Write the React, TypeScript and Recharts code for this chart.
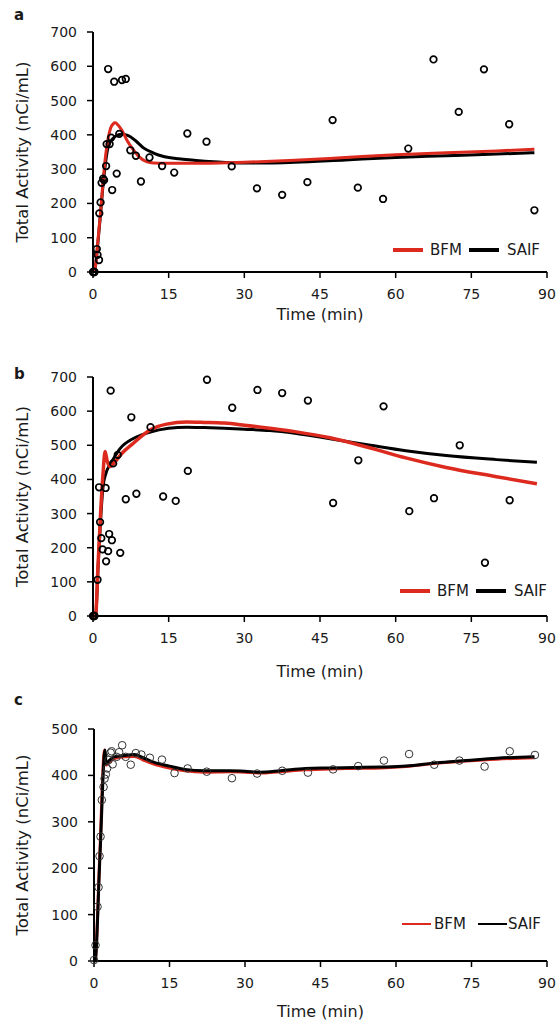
import React from "react";
import { ComposedChart, Line, Scatter, XAxis, YAxis } from "recharts";

// panel a – measured points
const timeA = [0, 0.1, 0.2, 0.3, 0.75, 0.9, 1.2, 1.25, 1.5, 1.7, 2.0, 2.2, 2.6, 2.7, 3.0, 3.3, 3.6, 3.8, 4.2, 4.7, 5.2, 5.75, 6.5, 7.4, 8.5, 9.5, 11.2, 13.7, 16.1, 18.7, 22.5, 27.5, 32.5, 37.5, 42.5, 47.5, 52.5, 57.5, 62.5, 67.5, 72.5, 77.5, 82.5, 87.5];
const actA = [0, 0, 0, 0, 67, 50, 35, 171, 203, 260, 272, 268, 309, 373, 592, 373, 392, 239, 555, 287, 403, 560, 563, 355, 339, 264, 334, 309, 290, 404, 380, 308, 244, 225, 262, 443, 246, 213, 360, 620, 467, 591, 431, 180];
// panel a – fitted curves
const bfmTimeA = [0, 0.4, 1, 1.5, 2, 2.5, 3, 3.5, 4, 4.4, 5, 5.7, 6.7, 8, 9, 10.6, 12, 14.6, 20, 25, 30, 40, 50, 60, 70, 80, 87.5];
const bfmA = [0, 10, 95, 175, 265, 340, 390, 420, 432, 435, 428, 414, 385, 356, 338, 322, 318, 317, 317, 318, 320, 326, 334, 342, 348, 353, 358];
const saifTimeA = [0, 0.4, 1, 1.5, 2, 2.5, 3, 4, 5, 5.5, 7, 8.5, 10, 12, 14, 17, 20, 23, 27, 30, 35, 40, 50, 60, 70, 80, 87.5];
const saifA = [0, 10, 90, 170, 255, 320, 365, 390, 400, 402, 398, 382, 362, 347, 337, 330, 326, 322, 319, 318, 318, 320, 327, 334, 339, 344, 348];

// panel b
const timeB = [0, 0.1, 0.2, 0.3, 0.9, 1.2, 1.4, 1.65, 1.9, 2.5, 2.6, 3.0, 3.2, 3.5, 3.75, 4.0, 4.9, 5.4, 6.5, 7.6, 8.6, 11.4, 13.9, 16.4, 18.8, 22.6, 27.6, 32.6, 37.5, 42.6, 47.6, 52.6, 57.6, 62.7, 67.6, 72.7, 77.7, 82.6];
const actB = [0, 0, 0, 0, 106, 377, 275, 228, 195, 375, 160, 190, 240, 660, 222, 447, 472, 185, 342, 582, 358, 553, 350, 337, 425, 692, 610, 662, 653, 631, 331, 456, 614, 307, 345, 500, 156, 339];
const bfmTimeB = [0, 0.5, 1, 1.5, 2, 2.4, 2.8, 3.4, 4.4, 5.7, 8, 11.3, 14.6, 18.6, 22, 26, 30, 35, 40, 47, 55, 62, 70, 80, 88];
const bfmB = [0, 0, 150, 300, 420, 482, 455, 438, 452, 476, 506, 545, 562, 568, 567, 565, 559, 550, 540, 522, 492, 463, 435, 408, 387];
const saifTimeB = [0, 0.5, 1, 1.5, 2, 2.5, 3.2, 3.7, 5.4, 8, 11, 15, 18.6, 22, 26, 30, 35, 40, 47, 55, 62, 70, 80, 88];
const saifB = [0, 0, 140, 280, 380, 415, 440, 452, 491, 520, 537, 550, 553, 552, 550, 547, 543, 535, 519, 500, 484, 470, 458, 450];

// panel c
const timeC = [0, 0.3, 0.7, 0.9, 1.1, 1.3, 1.55, 1.9, 2.1, 2.35, 2.6, 2.9, 3.3, 3.5, 3.7, 4.5, 5.0, 5.6, 6.3, 7.3, 8.3, 9.4, 11.1, 13.5, 16.0, 18.6, 22.4, 27.4, 32.4, 37.4, 42.5, 47.5, 52.5, 57.6, 62.6, 67.6, 72.6, 77.6, 82.6, 87.6];
const actC = [2, 34, 117, 159, 226, 268, 347, 375, 393, 402, 415, 433, 449, 452, 424, 440, 450, 465, 440, 423, 448, 445, 438, 434, 405, 415, 408, 394, 404, 410, 406, 413, 420, 432, 446, 423, 432, 419, 452, 444];
const bfmTimeC = [0, 0.2, 1.1, 2.1, 2.4, 3, 4, 6, 8, 10, 12, 15, 18, 22, 27, 30, 33, 37, 42, 47, 52, 57, 62, 68, 74, 80, 87.5];
const bfmC = [0, 0, 215, 455, 422, 428, 436, 440, 441, 432, 424, 416, 410, 407, 408, 407, 405, 408, 412, 414, 415, 416, 419, 426, 431, 435, 438];
const saifTimeC = [0, 0.2, 1.2, 2.2, 2.4, 3, 4, 6, 8, 10, 12, 15, 18, 22, 27, 30, 33, 37, 42, 47, 52, 57, 62, 68, 74, 80, 87.5];
const saifC = [0, 0, 230, 455, 425, 432, 440, 443, 445, 437, 428, 420, 413, 410, 410, 409, 407, 410, 415, 416, 417, 418, 420, 427, 432, 437, 440];

const xTicks = [0, 15, 30, 45, 60, 75, 90];
const yTicks700 = [0, 100, 200, 300, 400, 500, 600, 700];
const yTicks500 = [0, 100, 200, 300, 400, 500];

const RED = "#dc2a1f";
const INK = "#1a1a1a";

const toPts = (ts: number[], vs: number[]) => ts.map((t, i) => ({ t, v: vs[i] }));

const OpenCircle = (r: number, sw: number, color: string) => (props: any) =>
  <circle cx={props.cx} cy={props.cy} r={r} fill="none" stroke={color} strokeWidth={sw} />;

interface PanelProps {
  letter: string;
  top: number;
  height: number;
  marginTop: number;
  marginBottom: number;
  xAxisHeight: number;
  yWidth: number;
  yMax: number;
  yTicks: number[];
  points: { t: number; v: number }[];
  bfm: { t: number; v: number }[];
  saif: { t: number; v: number }[];
  redOnTop: boolean;
  legendTop: number;
  legendLeft: number;
  thinLegend?: boolean;
  dotR: number;
  dotW: number;
  dotColor: string;
  redW: number;
  blackW: number;
}

function LegendBox({ thin }: { thin?: boolean }) {
  const lh = thin ? 2.5 : 4;
  const line = (c: string) => (
    <span style={{ display: "inline-block", width: thin ? 29 : 30, height: lh, background: c }} />
  );
  return (
    <div style={{ display: "flex", alignItems: "center", fontSize: 15, color: INK, lineHeight: "20px", whiteSpace: "nowrap" }}>
      {line(RED)}
      <span style={{ marginLeft: thin ? 3 : 7, marginRight: thin ? 12 : 7 }}>BFM</span>
      {line("#000")}
      <span style={{ marginLeft: thin ? 1 : 8 }}>SAIF</span>
    </div>
  );
}

function Panel(p: PanelProps) {
  const red = (
    <Line key="bfm" data={p.bfm} dataKey="v" type="monotone" stroke={RED} strokeWidth={p.redW}
      dot={false} activeDot={false} isAnimationActive={false} />
  );
  const black = (
    <Line key="saif" data={p.saif} dataKey="v" type="monotone" stroke="#000" strokeWidth={p.blackW}
      dot={false} activeDot={false} isAnimationActive={false} />
  );
  return (
    <div style={{ position: "absolute", left: 0, top: p.top, width: 556, height: p.height }}>
      <div style={{ position: "absolute", left: 14, top: p.letter === "b" ? 37 : 8, fontSize: 15, fontWeight: "bold", lineHeight: 1, color: INK }}>
        {p.letter}
      </div>
      <ComposedChart width={556} height={p.height}
        margin={{ top: p.marginTop, right: 9, bottom: p.marginBottom, left: 0 }}>
        <XAxis type="number" dataKey="t" domain={[0, 90]} ticks={xTicks}
          height={p.xAxisHeight} tickSize={6} tickMargin={11}
          axisLine={{ stroke: "#000", strokeWidth: 2 }} tickLine={{ stroke: "#000", strokeWidth: 1.5 }}
          tick={{ fontSize: 14, fill: INK }}
          label={{ value: "Time (min)", position: "insideBottom", offset: 0, style: { fontSize: 16, fill: INK } }} />
        <YAxis type="number" dataKey="v" domain={[0, p.yMax]} ticks={p.yTicks}
          width={p.yWidth} tickSize={6} tickMargin={10}
          axisLine={{ stroke: "#000", strokeWidth: 2 }} tickLine={{ stroke: "#000", strokeWidth: 1.5 }}
          tick={{ fontSize: 14, fill: INK }}
          label={{ value: "Total Activity (nCi/mL)", angle: -90, position: "insideLeft", offset: 22,
            style: { textAnchor: "middle", fontSize: 16.5, fill: INK } }} />
        <Scatter data={p.points} dataKey="v" shape={OpenCircle(p.dotR, p.dotW, p.dotColor)} isAnimationActive={false} />
        {p.redOnTop ? [black, red] : [red, black]}
      </ComposedChart>
      <div style={{ position: "absolute", top: p.legendTop, left: p.legendLeft }}>
        <LegendBox thin={p.thinLegend} />
      </div>
    </div>
  );
}

export default function App() {
  return (
    <div style={{ position: "absolute", left: 0, top: 0, width: 556, height: 1021, background: "#fff", fontFamily: "'DejaVu Sans', sans-serif" }}>
      <Panel letter="a" top={0} height={330} marginTop={32} marginBottom={10} xAxisHeight={48} yWidth={93}
        yMax={700} yTicks={yTicks700} points={toPts(timeA, actA)} bfm={toPts(bfmTimeA, bfmA)} saif={toPts(saifTimeA, saifA)}
        redOnTop legendTop={240} legendLeft={393} dotR={3.3} dotW={1.7} dotColor="#000" redW={3} blackW={3} />
      <Panel letter="b" top={330} height={355} marginTop={47} marginBottom={8} xAxisHeight={61} yWidth={93}
        yMax={700} yTicks={yTicks700} points={toPts(timeB, actB)} bfm={toPts(bfmTimeB, bfmB)} saif={toPts(saifTimeB, saifB)}
        redOnTop legendTop={251} legendLeft={400} dotR={3.3} dotW={1.7} dotColor="#000" redW={3.5} blackW={3} />
      <Panel letter="c" top={685} height={336} marginTop={44} marginBottom={4} xAxisHeight={56} yWidth={94}
        yMax={500} yTicks={yTicks500} points={toPts(timeC, actC)} bfm={toPts(bfmTimeC, bfmC)} saif={toPts(saifTimeC, saifC)}
        redOnTop={false} legendTop={229} legendLeft={402} thinLegend dotR={3.8} dotW={1} dotColor="#333" redW={3} blackW={3} />
    </div>
  );
}
